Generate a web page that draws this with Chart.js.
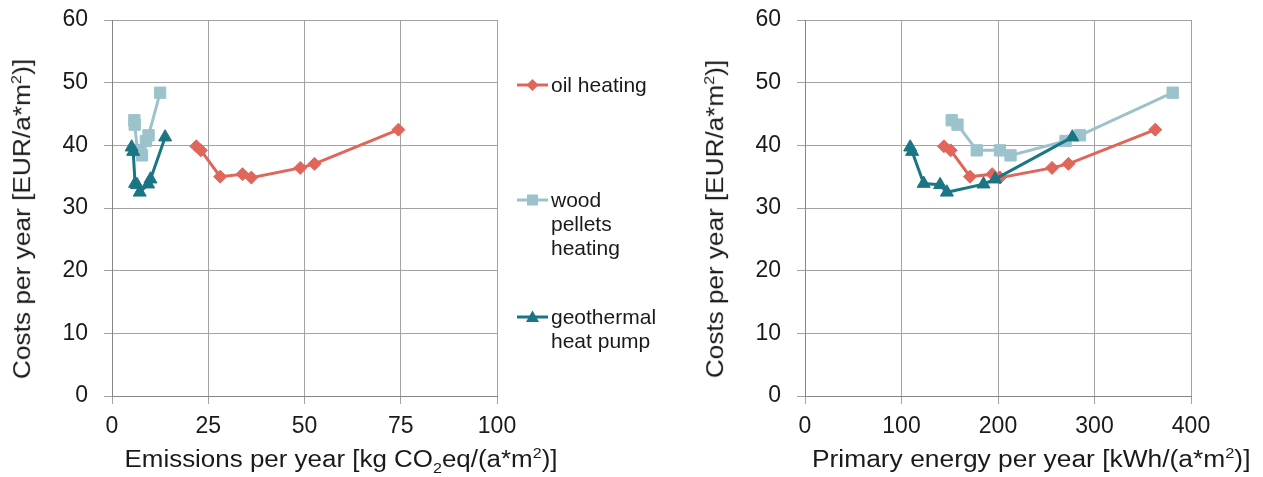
<!DOCTYPE html>
<html>
<head>
<meta charset="utf-8">
<script src="https://cdn.jsdelivr.net/npm/chart.js@4/dist/chart.umd.min.js"></script>
<style>
  html, body { margin: 0; padding: 0; background: #ffffff; }
  body { width: 1263px; height: 477px; position: relative; overflow: hidden; font-family: "Liberation Sans", Arial, sans-serif; color: #1a1a1a; }
  #left { position: absolute; left: 0; top: -20px; }
  #right { position: absolute; left: 690px; top: -20px; }
  .lg { position: absolute; left: 517px; font-size: 21px; line-height: 24px; }
  .lg svg { position: absolute; left: 0; top: 0; }
  .lg span { position: absolute; left: 34px; top: 0; white-space: nowrap; }
  .ttl { position: absolute; left: 0; top: 0; white-space: nowrap; font-size: 23px; line-height: 28px; transform-origin: 50% 50%; }
  .ttl sub, .ttl sup { font-size: 0.62em; line-height: 0; }
</style>
</head>
<body>
<canvas id="left" width="560" height="497"></canvas>
<canvas id="right" width="573" height="497"></canvas>

<div class="ttl" id="yt1">Costs per year [EUR/a*m<sup>2</sup>)]</div>
<div class="ttl" id="xt1">Emissions per year [kg CO<sub>2</sub>eq/(a*m<sup>2</sup>)]</div>
<div class="ttl" id="yt2">Costs per year [EUR/a*m<sup>2</sup>)]</div>
<div class="ttl" id="xt2">Primary energy per year [kWh/(a*m<sup>2</sup>)]</div>

<div class="lg" style="top:73px;">
  <svg width="32" height="24"><line x1="0" y1="12" x2="31" y2="12" stroke="#E0655A" stroke-width="3"/><polygon points="15.5,6 21.5,12 15.5,18 9.5,12" fill="#E0655A"/></svg>
  <span>oil heating</span>
</div>
<div class="lg" style="top:188px;">
  <svg width="32" height="24"><line x1="0" y1="12" x2="31" y2="12" stroke="#9CC3CC" stroke-width="3"/><rect x="10" y="6.5" width="11" height="11" fill="#9CC3CC"/></svg>
  <span>wood<br>pellets<br>heating</span>
</div>
<div class="lg" style="top:305px;">
  <svg width="32" height="24"><line x1="0" y1="12" x2="31" y2="12" stroke="#1A7585" stroke-width="3"/><polygon points="15.5,5.5 22,17 9,17" fill="#1A7585"/></svg>
  <span>geothermal<br>heat pump</span>
</div>

<script>
// ---- data ----
const seriesNames = ["oil heating", "wood pellets heating", "geothermal heat pump"];
const oilCosts       = [39.85, 39.2, 35.0, 35.4, 34.85, 36.4, 37.05, 42.5];
const oilEmissions   = [21.9, 23.1, 28.1, 33.9, 36.2, 48.9, 52.6, 74.4];
const oilEnergy      = [144, 151, 171, 194, 202, 256, 273, 363];

const woodCosts      = [44.0, 43.3, 39.2, 39.2, 38.4, 40.7, 41.6, 48.4];
const woodEmissions  = [5.8, 5.9, 6.6, 7.4, 7.8, 8.8, 9.5, 12.5];
const woodEnergy     = [152, 158, 178, 202, 213, 270, 285, 381];

const geoCosts       = [39.7, 39.0, 33.9, 33.7, 32.5, 33.8, 34.6, 41.3];
const geoEmissions   = [5.1, 5.5, 6.0, 6.5, 7.2, 9.4, 10.0, 13.8];
const geoEnergy      = [109, 111, 123, 140, 147, 185, 197, 277];

const emissionTicks  = [0, 25, 50, 75, 100];
const energyTicks    = [0, 100, 200, 300, 400];
const costTicks      = [0, 10, 20, 30, 40, 50, 60];

const colors = { oil: "#E0655A", wood: "#9CC3CC", geo: "#1A7585" };

function pts(xs, ys) { return xs.map((x, i) => ({ x: x, y: ys[i] })); }

const FONT = "'Liberation Sans', Arial, sans-serif";
Chart.defaults.font.family = FONT;
Chart.defaults.color = "#1a1a1a";

function makeDatasets(oilX, woodX, geoX) {
  return [
    { label: seriesNames[2], data: pts(geoX, geoCosts), borderColor: colors.geo, backgroundColor: colors.geo,
      pointStyle: "triangle", pointRadius: 7.5, borderWidth: 3, pointBorderWidth: 1, showLine: true, order: 1 },
    { label: seriesNames[1], data: pts(woodX, woodCosts), borderColor: colors.wood, backgroundColor: colors.wood,
      pointStyle: "rect", pointRadius: 8, borderWidth: 3, pointBorderWidth: 1, showLine: true, order: 2 },
    { label: seriesNames[0], data: pts(oilX, oilCosts), borderColor: colors.oil, backgroundColor: colors.oil,
      pointStyle: "rectRot", pointRadius: 6.5, borderWidth: 3, pointBorderWidth: 1, showLine: true, order: 3 }
  ];
}

function makeOptions(xTicks, yWidth, padRight) {
  return {
    responsive: false,
    animation: false,
    layout: { padding: { top: 40, right: padRight, left: 0, bottom: 0 } },
    plugins: { legend: { display: false }, tooltip: { enabled: false } },
    scales: {
      x: {
        type: "linear",
        min: xTicks[0], max: xTicks[xTicks.length - 1],
        afterBuildTicks: (s) => { s.ticks = xTicks.map(v => ({ value: v })); },
        afterFit: (s) => { s.height = 81; },
        grid: { color: "#a3a3a3", lineWidth: 1, tickLength: 8, drawTicks: true },
        border: { color: "#868686", width: 1 },
        ticks: { font: { size: 23 }, padding: 9, color: "#1a1a1a", maxRotation: 0 },
        title: { display: false }
      },
      y: {
        type: "linear",
        min: 0, max: 60,
        afterBuildTicks: (s) => { s.ticks = costTicks.map(v => ({ value: v })); },
        afterFit: (s) => { s.width = yWidth; },
        grid: { color: "#a3a3a3", lineWidth: 1, tickLength: 8, drawTicks: true },
        border: { color: "#868686", width: 1 },
        ticks: { font: { size: 23 }, padding: 16, color: "#1a1a1a" },
        title: { display: false }
      }
    }
  };
}

new Chart(document.getElementById("left"), {
  type: "scatter",
  data: { datasets: makeDatasets(oilEmissions, woodEmissions, geoEmissions) },
  options: makeOptions(emissionTicks, 112, 63)
});

new Chart(document.getElementById("right"), {
  type: "scatter",
  data: { datasets: makeDatasets(oilEnergy, woodEnergy, geoEnergy) },
  options: makeOptions(energyTicks, 115, 72)
});

// axis titles (HTML so sub/superscripts are real), centred and fitted to their length
function placeTitle(id, cx, cy, len, rot) {
  const el = document.getElementById(id);
  const w = el.offsetWidth, h = el.offsetHeight;
  el.style.left = (cx - w / 2) + "px";
  el.style.top = (cy - h / 2) + "px";
  el.style.transform = "rotate(" + rot + "deg) scaleX(" + (len / w) + ")";
}
placeTitle("yt1", 22, 219, 320, -90);
placeTitle("yt2", 715, 219, 318, -90);
placeTitle("xt1", 341, 459, 433, 0);
placeTitle("xt2", 1031, 459, 438, 0);
</script>
</body>
</html>
